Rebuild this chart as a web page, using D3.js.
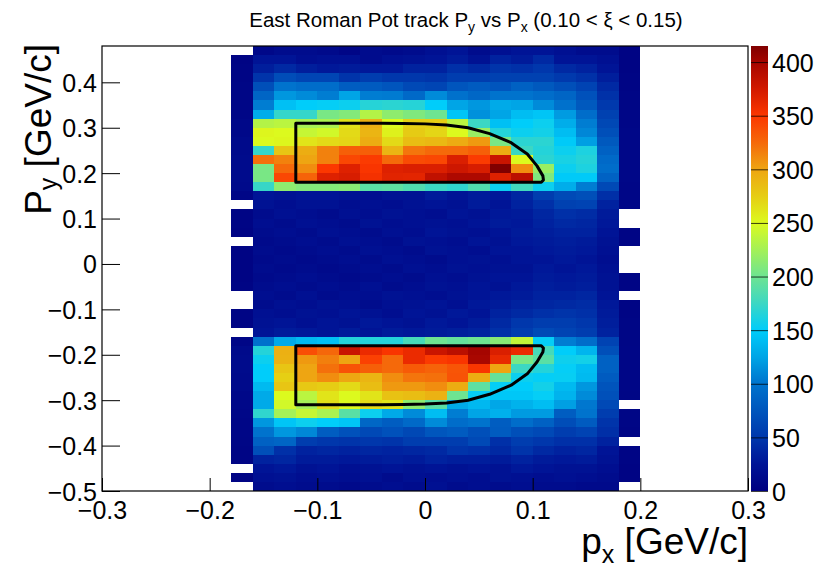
<!DOCTYPE html>
<html><head><meta charset="utf-8">
<script src="https://cdn.jsdelivr.net/npm/d3@7/dist/d3.min.js"></script>
<style>
body{margin:0;background:#fff;}
svg{display:block;}
text{font-family:"Liberation Sans",Arial,Helvetica,sans-serif;fill:#000;}
</style>
</head><body>
<svg id="c" width="822" height="569"></svg>
<script>
// ---- data ----
const pxEdges = [-0.18,-0.16,-0.14,-0.12,-0.10,-0.08,-0.06,-0.04,-0.02,0.00,0.02,0.04,0.06,0.08,0.10,0.12,0.14,0.16,0.18,0.20];
const pyEdges = [0.48,0.46,0.44,0.42,0.40,0.38,0.36,0.34,0.32,0.30,0.28,0.26,0.24,0.22,0.20,0.18,0.16,0.14,0.12,0.10,0.08,0.06,0.04,0.02,0.00,
  -0.02,-0.04,-0.06,-0.08,-0.10,-0.12,-0.14,-0.16,-0.18,-0.20,-0.22,-0.24,-0.26,-0.28,-0.30,-0.32,-0.34,-0.36,-0.38,-0.40,-0.42,-0.44,-0.46,-0.48,-0.50];
// counts[row][col], rows from top (py 0.46..0.48) to bottom (py -0.50..-0.48)
const counts = [
[null,10,15,15,12,8,15,12,15,20,25,15,20,25,25,20,15,15,5],
[5,25,25,18,20,20,15,20,22,25,30,22,35,30,40,25,25,20,5],
[6,32,40,32,28,30,28,28,35,35,45,40,48,45,50,40,35,25,5],
[6,48,68,62,62,48,55,50,50,48,55,55,58,58,58,52,46,32,6],
[7,70,100,95,95,82,80,75,65,62,75,80,75,85,78,70,60,40,6],
[7,88,118,112,105,125,105,104,92,112,98,90,100,100,95,88,72,46,7],
[8,105,142,150,152,155,166,168,166,150,125,118,128,125,112,98,78,52,7],
[8,130,172,172,205,210,232,215,208,200,145,115,125,140,145,120,95,58,8],
[10,232,235,226,228,264,294,250,274,274,235,175,142,150,155,130,105,64,8],
[10,252,250,240,245,268,290,255,276,270,250,220,165,155,158,140,110,70,9],
[12,250,252,262,268,270,295,268,285,288,296,305,205,168,168,148,122,78,9],
[12,172,280,295,315,330,330,290,320,325,325,330,295,175,165,155,162,85,9],
[14,322,315,300,315,342,348,325,340,342,370,348,380,250,168,160,165,92,9],
[14,205,325,310,350,368,352,368,370,370,378,372,415,310,220,155,162,95,9],
[14,205,342,328,368,372,355,366,365,385,395,395,368,388,208,148,148,86,9],
[12,173,215,210,210,212,190,192,185,175,170,185,155,178,155,130,105,65,8],
[8,25,22,25,25,22,18,22,22,30,25,30,28,38,55,66,70,44,8],
[null,22,18,22,22,18,20,18,22,25,22,30,25,35,45,58,60,35,8],
[6,15,20,18,15,20,18,22,20,18,25,22,28,30,38,45,42,30,null],
[6,18,15,20,18,15,22,18,20,22,20,25,30,28,35,40,38,28,null],
[5,15,18,15,20,18,15,20,18,25,22,20,25,30,32,35,35,25,6],
[null,12,15,18,15,20,18,15,22,20,18,25,22,28,30,32,30,22,6],
[5,15,12,15,18,15,20,18,15,22,20,18,25,25,28,30,28,20,null],
[5,12,15,12,15,18,15,20,18,15,20,22,20,25,25,28,25,18,null],
[5,15,12,15,12,15,18,15,20,18,22,20,22,22,28,25,28,20,null],
[5,12,15,18,15,12,15,18,15,20,18,22,25,25,30,28,30,22,6],
[6,15,18,15,18,15,20,15,18,22,20,25,22,28,32,30,32,22,6],
[null,18,15,20,15,18,18,22,20,18,22,25,28,30,35,35,38,25,null],
[null,15,20,18,22,20,15,20,22,25,20,28,30,35,38,40,42,28,6],
[6,20,18,22,20,25,22,18,25,22,28,25,35,40,45,48,45,30,6],
[6,22,25,20,25,22,28,25,22,28,25,30,40,50,55,55,50,32,7],
[null,25,30,28,25,30,25,30,28,30,32,35,45,55,65,60,55,35,7],
[8,98,128,138,142,165,165,165,180,200,195,200,212,238,152,105,95,60,7],
[12,165,293,338,326,380,360,352,360,380,388,400,370,360,180,150,135,70,8],
[14,155,292,305,316,300,345,325,360,348,352,398,362,205,190,156,158,85,8],
[14,150,280,300,322,336,330,325,332,328,335,352,300,175,165,152,140,85,8],
[12,150,274,300,310,298,290,310,320,322,336,295,195,155,152,153,138,80,8],
[12,138,280,278,275,268,285,305,305,310,295,192,152,150,158,138,118,74,8],
[10,128,250,235,262,250,262,282,285,292,200,152,146,146,152,134,112,71,7],
[10,128,245,225,265,250,268,262,215,190,128,137,126,133,140,122,102,65,null],
[9,170,225,240,228,190,155,128,112,140,105,125,132,120,120,82,100,55,7],
[8,118,145,155,150,145,90,82,92,112,95,100,82,95,85,68,80,48,7],
[8,100,118,110,82,72,65,72,64,76,80,70,80,70,65,55,60,44,6],
[7,85,88,55,50,48,50,48,55,55,55,65,45,55,50,45,45,35,null],
[6,70,45,35,38,35,38,36,38,40,48,45,40,48,40,35,38,25,6],
[6,35,38,30,30,28,30,32,30,35,32,32,30,35,30,28,30,22,6],
[null,25,28,22,25,20,22,25,22,25,22,25,22,28,25,22,22,18,5],
[5,20,22,18,20,18,20,15,20,18,20,18,22,20,18,20,18,15,5],
[null,15,18,15,15,12,15,18,15,20,15,18,15,18,15,15,12,12,null]
];
const zMax = 415;
const zTicks = [0,50,100,150,200,250,300,350,400];
const xTicks = [-0.3,-0.2,-0.1,0,0.1,0.2,0.3];
const yTicks = [-0.5,-0.4,-0.3,-0.2,-0.1,0,0.1,0.2,0.3,0.4];
const paletteVals = [0,25,50,100,125,150,175,200,228,250,275,300,325,350,375,400,415];
const paletteCols = ["#000080","#001496","#0037ac","#0073cd","#00a5e6","#00cdfa","#3cd7c3","#6ee491","#aaf250","#dcfa1e","#e6cd14","#eea512","#f5690a","#fc3700","#d21900","#a50500","#800000"];
// fiducial cut outline (upper region; lower region is its mirror in py)
const cutPx = [-0.12,-0.12,-0.04,-0.02,0.00,0.02,0.04,0.06,0.08,0.095,0.104,0.1095,0.110,0.108];
const cutPy = [0.18,0.31,0.31,0.3095,0.3085,0.306,0.300,0.287,0.267,0.242,0.216,0.194,0.185,0.18];

// ---- layout ----
const L = 102, R = 748, T = 46, B = 491;
const svg = d3.select("#c");
const x = d3.scaleLinear().domain([-0.3, 0.3]).range([L, R]);
const y = d3.scaleLinear().domain([-0.5, 0.48]).range([B, T]);
const color = d3.scaleLinear().domain(paletteVals).range(paletteCols).interpolate(d3.interpolateRgb).clamp(true);

// cells
const cells = [];
counts.forEach((row, i) => row.forEach((v, j) => { if (v !== null) cells.push({i, j, v}); }));
svg.append("g").attr("shape-rendering", "crispEdges")
  .selectAll("rect").data(cells).join("rect")
  .attr("x", d => x(pxEdges[d.j]))
  .attr("width", d => x(pxEdges[d.j + 1]) - x(pxEdges[d.j]))
  .attr("y", d => y(pyEdges[d.i]))
  .attr("height", d => y(pyEdges[d.i + 1]) - y(pyEdges[d.i]))
  .attr("fill", d => color(d.v));

// cut outlines
const pts = cutPx.map((p, k) => [p, cutPy[k]]);
const line = d3.line().x(d => x(d[0])).y(d => y(d[1])).curve(d3.curveLinearClosed);
svg.append("path").attr("d", line(pts)).attr("fill", "none").attr("stroke", "#000").attr("stroke-width", 3).attr("stroke-linejoin", "round");
svg.append("path").attr("d", line(pts.map(d => [d[0], -d[1]]))).attr("fill", "none").attr("stroke", "#000").attr("stroke-width", 3).attr("stroke-linejoin", "round");

// frame
svg.append("rect").attr("x", L).attr("y", T).attr("width", R - L).attr("height", B - T)
  .attr("fill", "none").attr("stroke", "#000").attr("stroke-width", 1.2);

const fmt = v => Math.abs(v) < 1e-9 ? "0" : (v < 0 ? "\u2212" : "") + Math.abs(v).toFixed(1);

// x axis
const xMinor = d3.range(-15, 16).map(k => k * 0.02);
const gx = svg.append("g").attr("transform", `translate(0,${B})`);
gx.call(d3.axisBottom(x).tickValues(xMinor).tickSize(-7).tickFormat(""));
gx.call(d3.axisBottom(x).tickValues(xTicks).tickSize(-13).tickPadding(8).tickFormat(fmt));
gx.selectAll(".domain").remove();
gx.selectAll("line").attr("stroke", "#000");
gx.selectAll("text").attr("font-size", 25).attr("dy", "0.78em").attr("font-family", "Liberation Sans, Arial, sans-serif");

// y axis
const yMinor = d3.range(-25, 25).map(k => k * 0.02);
const gy = svg.append("g").attr("transform", `translate(${L},0)`);
gy.call(d3.axisLeft(y).tickValues(yMinor).tickSize(-9).tickFormat(""));
gy.call(d3.axisLeft(y).tickValues(yTicks).tickSize(-18).tickPadding(5).tickFormat(fmt));
gy.selectAll(".domain").remove();
gy.selectAll("line").attr("stroke", "#000");
gy.selectAll("text").attr("font-size", 25).attr("dy", "0.36em").attr("font-family", "Liberation Sans, Arial, sans-serif");

// colour bar
const CL = 751, CR = 768;
const z = d3.scaleLinear().domain([0, zMax]).range([B, T]);
const grad = svg.append("defs").append("linearGradient").attr("id", "pal")
  .attr("x1", 0).attr("y1", 1).attr("x2", 0).attr("y2", 0);
d3.range(0, 101).forEach(k => grad.append("stop").attr("offset", k / 100).attr("stop-color", color(k / 100 * zMax)));
svg.append("rect").attr("x", CL).attr("y", T).attr("width", CR - CL).attr("height", B - T).attr("fill", "url(#pal)");
const gz = svg.append("g").attr("transform", `translate(${CR},0)`);
gz.call(d3.axisRight(z).tickValues(zTicks).tickSize(-17).tickPadding(4).tickFormat(d3.format("d")));
gz.selectAll(".domain").remove();
gz.selectAll("line").attr("stroke", "#000").attr("stroke-opacity", 0.75);
gz.selectAll("text").attr("font-size", 25).attr("dy", "0.36em").attr("font-family", "Liberation Sans, Arial, sans-serif");

// title
const title = svg.append("text").attr("x", 466).attr("y", 27).attr("text-anchor", "middle").attr("font-size", 20.5);
title.append("tspan").text("East Roman Pot track P");
title.append("tspan").attr("font-size", 14).attr("dy", 5).text("y");
title.append("tspan").attr("dy", -5).text(" vs P");
title.append("tspan").attr("font-size", 14).attr("dy", 5).text("x");
title.append("tspan").attr("dy", -5).text(" (0.10 < \u03BE < 0.15)");

// x axis title
const xt = svg.append("text").attr("x", R).attr("y", 554).attr("text-anchor", "end").attr("font-size", 37);
xt.append("tspan").text("p");
xt.append("tspan").attr("font-size", 25).attr("dy", 9).text("x");
xt.append("tspan").attr("dy", -9).text(" [GeV/c]");

// y axis title
const yt = svg.append("text").attr("transform", `translate(51,${T - 2}) rotate(-90)`).attr("text-anchor", "end").attr("font-size", 37);
yt.append("tspan").text("P");
yt.append("tspan").attr("font-size", 25).attr("dy", 6).text("y");
yt.append("tspan").attr("dy", -6).text(" [GeV/c]");
</script>
</body></html>
